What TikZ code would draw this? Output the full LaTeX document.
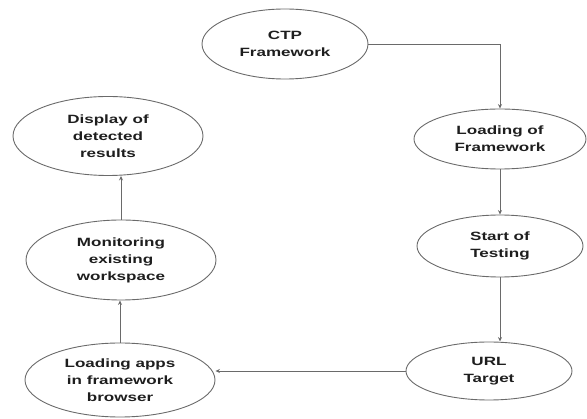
\documentclass[tikz,border=0pt]{standalone}
\usepackage{fontspec}
\setmainfont{Liberation Sans}[FakeStretch=1.42]
\usetikzlibrary{shapes.geometric,arrows.meta}
\definecolor{edgegray}{HTML}{6A6A6A}
\definecolor{txt}{HTML}{1E1E1E}
\tikzset{
  bubble/.style={ellipse, draw=edgegray, line width=0.9pt, inner sep=0pt,
    text=txt, align=center, font=\fontsize{12}{17}\selectfont\bfseries},
  flow/.style={draw=edgegray, line width=0.9pt, -{Stealth[length=4.5pt,width=4pt]}}
}
\begin{document}
\begin{tikzpicture}[x=1pt,y=-1pt]
\useasboundingbox (0,0) rectangle (587,419);
\node[bubble, minimum width=166pt, minimum height=70pt] (ctp) at (285,44) {CTP\\Framework};
\node[bubble, minimum width=172pt, minimum height=60pt] (load) at (500,139) {Loading of\\Framework};
\node[bubble, minimum width=166pt, minimum height=62pt] (start) at (500,246) {Start of\\Testing};
\node[bubble, minimum width=166pt, minimum height=58pt] (url) at (489,371) {URL\\Target};
\node[bubble, minimum width=190pt, minimum height=74pt] (apps) at (120,380) {Loading apps\\in framework\\browser};
\node[bubble, minimum width=190pt, minimum height=80pt] (mon) at (121,260) {Monitoring\\existing\\workspace};
\node[bubble, minimum width=190pt, minimum height=79pt] (disp) at (108,136) {Display of\\detected\\results};
\draw[flow] (ctp.east) -| (load.north);
\draw[flow] (load.south) -- (load.south |- start.north);
\draw[flow] (start.south) -- (start.south |- url.north);
\draw[flow] (url.west) -- (url.west -| apps.east);
\draw[flow] (apps.north) -- (apps.north |- mon.south);
\draw[flow] (mon.north) -- (mon.north |- disp.south);
\end{tikzpicture}
\end{document}
